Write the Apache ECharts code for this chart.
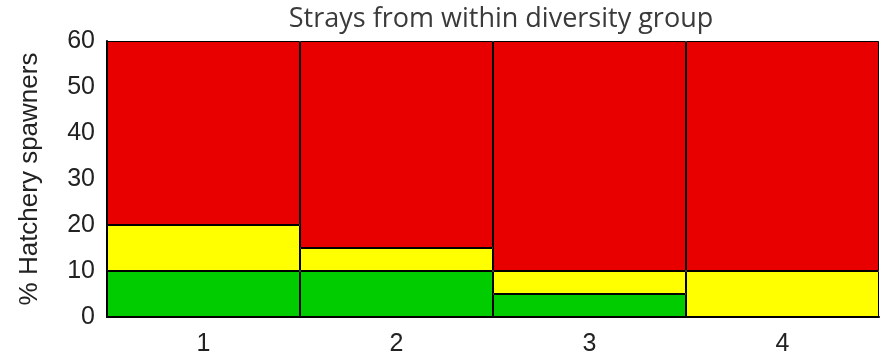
<!DOCTYPE html>
<html lang="en">
<head>
  <meta charset="UTF-8">
  <title>Strays from within diversity group</title>
  <script src="https://cdn.jsdelivr.net/npm/echarts@6/dist/echarts.min.js"></script>
  <style>
    html, body { margin: 0; padding: 0; background: #fff; }
    #chart { width: 885px; height: 364px; }
  </style>
</head>
<body>
  <div id="chart"></div>
  <script>
    const categories = ['1', '2', '3', '4'];
    const greenValues = [10, 10, 5, 0];
    const yellowValues = [10, 5, 5, 10];
    const redValues = [40, 45, 50, 50];

    const chart = echarts.init(document.getElementById('chart'));

    const seg = (name, data, color) => ({
      name: name,
      type: 'bar',
      stack: 'total',
      barCategoryGap: 0,
      data: data,
      itemStyle: { color: color, borderColor: '#000', borderWidth: 1 },
      emphasis: { disabled: true }
    });

    chart.setOption({
      animation: false,
      title: {
        text: 'Strays from within diversity group',
        left: 496,
        textAlign: 'center',
        top: 1,
        textStyle: { fontFamily: 'Open Sans', fontSize: 27, fontWeight: 'normal', color: '#3a3a3a' }
      },
      grid: { left: 107, right: 6, top: 41, bottom: 47 },
      xAxis: {
        type: 'category',
        data: categories,
        axisLine: { lineStyle: { color: '#000', width: 2 } },
        axisTick: { show: false },
        axisLabel: { margin: 15, fontFamily: 'Liberation Sans', fontSize: 25, color: '#222' }
      },
      yAxis: {
        type: 'value',
        min: 0,
        max: 60,
        interval: 10,
        name: '% Hatchery spawners',
        nameLocation: 'middle',
        nameGap: 64,
        nameTextStyle: { fontFamily: 'Liberation Sans', fontSize: 26, color: '#222' },
        axisLine: { show: true, lineStyle: { color: '#000', width: 2 } },
        axisTick: { show: false },
        splitLine: { show: false },
        axisLabel: { margin: 12, fontFamily: 'Liberation Sans', fontSize: 25, color: '#222' }
      },
      series: [
        seg('Green', greenValues, '#00cc00'),
        seg('Yellow', yellowValues, '#ffff00'),
        seg('Red', redValues, '#e80000')
      ]
    });
  </script>
</body>
</html>
